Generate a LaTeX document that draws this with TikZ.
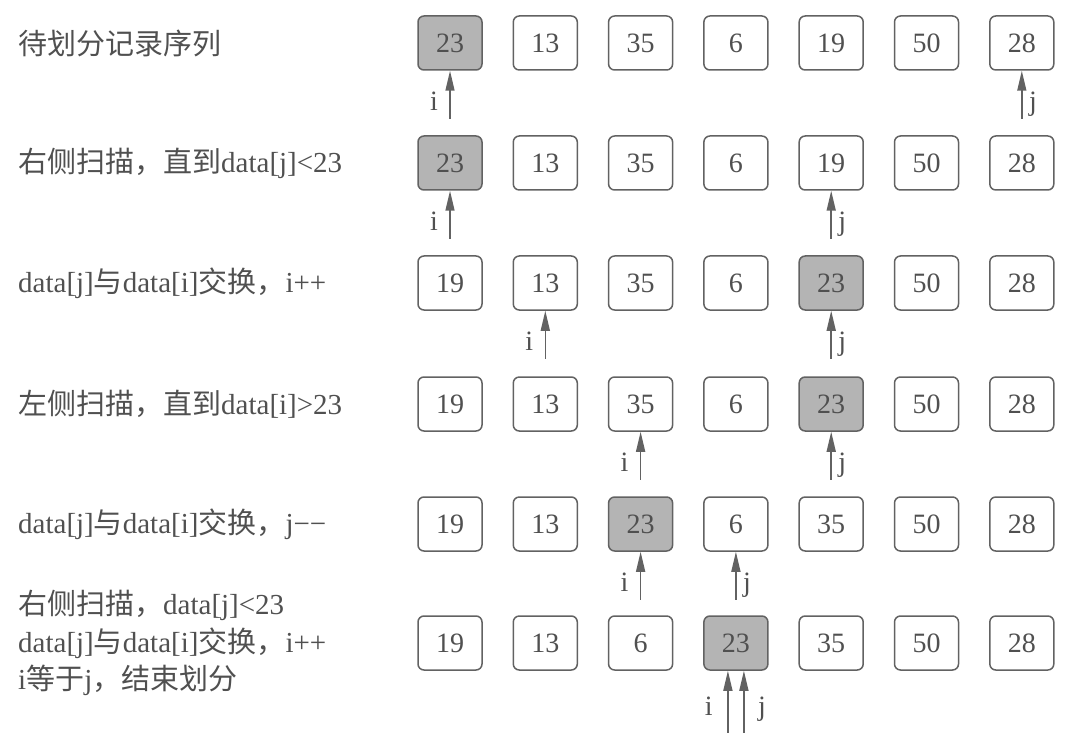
\documentclass[tikz,border=0pt]{standalone}
\usepackage{fontspec}
\setmainfont{Liberation Serif}
\newfontfamily\cjk{Noto Sans CJK SC}
\usetikzlibrary{arrows.meta,positioning,calc}

\definecolor{inkgray}{HTML}{505050}
\definecolor{rimgray}{HTML}{626262}
\definecolor{pivotgray}{HTML}{B4B4B4}

\tikzset{
  cell/.style={draw=rimgray, line width=1.5pt, rounded corners=6pt,
    minimum width=64pt, minimum height=54pt, inner sep=0pt,
    text=inkgray, font=\fontsize{28}{30}\selectfont},
  ptr/.style={draw=rimgray, line width=1.5pt, -{Triangle[length=20pt,width=9pt]}},
  ptrname/.style={text=inkgray, font=\fontsize{28}{30}\selectfont, inner sep=0pt},
  rowtext/.style={anchor=west, text=inkgray, align=left, inner sep=0pt,
    font=\fontsize{29}{37.5}\selectfont},
}

\begin{document}
\begin{tikzpicture}[x=1pt,y=-1pt]
\useasboundingbox (0,0) rectangle (1070,735);

% Step descriptions
\node[rowtext] (t1) at (18,43) {{\cjk 待划分记录序列}};
\node[rowtext] (t2) at (18,163) {{\cjk 右侧扫描，直到}data[j]<23};
\node[rowtext] (t3) at (18,283) {data[j]{\cjk 与}data[i]{\cjk 交换，}i++};
\node[rowtext] (t4) at (18,404) {{\cjk 左侧扫描，直到}data[i]>23};
\node[rowtext] (t5) at (18,524) {data[j]{\cjk 与}data[i]{\cjk 交换，}j−−};
\node[rowtext] (t6) at (18,643) {{\cjk 右侧扫描，}data[j]<23\\
  data[j]{\cjk 与}data[i]{\cjk 交换，}i++\\
  i{\cjk 等于}j{\cjk ，结束划分}};

% Cells, one row per partition step (pivot 23 shaded)
\foreach \r/\y/\vals in {1/43/{23,13,35,6,19,50,28},
                         2/163/{23,13,35,6,19,50,28},
                         3/283/{19,13,35,6,23,50,28},
                         4/404/{19,13,35,6,23,50,28},
                         5/524/{19,13,23,6,35,50,28},
                         6/643/{19,13,6,23,35,50,28}}{
  \foreach \v [count=\k] in \vals {
    \ifnum\v=23 \def\tone{pivotgray}\else\def\tone{white}\fi
    \node[cell, fill=\tone] (c\r\k) at ({450+95.3*(\k-1)},\y) {\v};
  }
}

% Pointers i and j
\foreach \r/\ci/\cj in {1/1/7, 2/1/5, 3/2/5, 4/3/5, 5/3/4}{
  \coordinate (i\r) at ($(c\r\ci.south)+(0,48)$);
  \coordinate (j\r) at ($(c\r\cj.south)+(0,48)$);
  \draw[ptr] (i\r) -- (c\r\ci.south);
  \draw[ptr] (j\r) -- (c\r\cj.south);
  \node[ptrname, anchor=base east] (li\r) at ($(i\r)+(-12,-8)$) {i};
  \node[ptrname, anchor=base west] (lj\r) at ($(j\r)+(7,-8)$) {j};
}

% Last step: i meets j
\coordinate (i6) at ($(c64.south)+(-8,62)$);
\coordinate (j6) at ($(c64.south)+(8,62)$);
\draw[ptr] (i6) -- ([xshift=-8pt]c64.south);
\draw[ptr] (j6) -- ([xshift=8pt]c64.south);
\node[ptrname, anchor=base east] (li6) at ($(i6)+(-15,-17)$) {i};
\node[ptrname, anchor=base west] (lj6) at ($(j6)+(14,-17)$) {j};

\end{tikzpicture}
\end{document}
